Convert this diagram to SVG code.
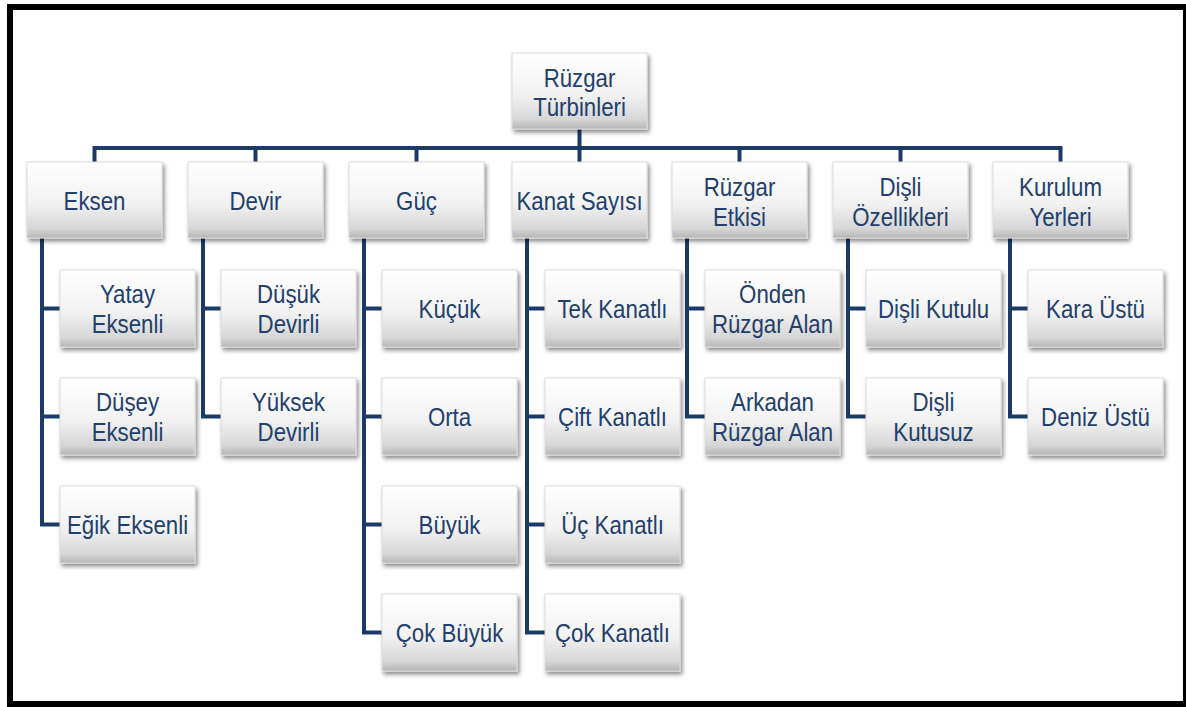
<svg xmlns="http://www.w3.org/2000/svg" width="1186" height="707" viewBox="0 0 1186 707">
<defs>
<linearGradient id="g" x1="0" y1="0" x2="0" y2="1">
<stop offset="0" stop-color="#ffffff"/>
<stop offset="0.55" stop-color="#f2f2f2"/>
<stop offset="0.88" stop-color="#d6d6d6"/>
<stop offset="1" stop-color="#b5b5b5"/>
</linearGradient>
<filter id="sh" x="-10%" y="-10%" width="130%" height="140%">
<feDropShadow dx="2" dy="3" stdDeviation="2" flood-color="#000" flood-opacity="0.45"/>
</filter>
</defs>
<style>
.box{fill:url(#g);stroke:#dcdcdc;stroke-width:1;filter:url(#sh)}
.t{font-family:"Liberation Sans",Arial,sans-serif;font-size:25px;fill:#22406b;text-anchor:middle}
.c{fill:none;stroke:#1b3a66;stroke-width:4;stroke-linejoin:miter;stroke-linecap:butt}
</style>
<rect x="0" y="0" width="1186" height="707" fill="#ffffff"/>
<rect x="10" y="7" width="1176" height="697" fill="none" stroke="#000" stroke-width="6"/>

<g id="connectors">
<path class="c" d="M94.5 148 H1060.5"/>
<path class="c" d="M579.5 129 V162"/>
<path class="c" d="M94.5 146 V162 M255.5 146 V162 M416.5 146 V162 M739.5 146 V162 M900.5 146 V162 M1060.5 146 V162"/>
<path class="c" d="M42 238 V524.5 H60 M42 308.5 H60 M42 416.5 H60"/>
<path class="c" d="M203 238 V416.5 H221 M203 308.5 H221"/>
<path class="c" d="M364 238 V632.5 H382 M364 308.5 H382 M364 416.5 H382 M364 524.5 H382"/>
<path class="c" d="M527 238 V632.5 H545 M527 308.5 H545 M527 416.5 H545 M527 524.5 H545"/>
<path class="c" d="M687 238 V416.5 H705 M687 308.5 H705"/>
<path class="c" d="M848 238 V416.5 H866 M848 308.5 H866"/>
<path class="c" d="M1010 238 V416.5 H1028 M1010 308.5 H1028"/>
</g>

<g id="root"><rect class="box" x="512" y="53" width="135" height="76"/><text class="t" transform="translate(579.5 87) scale(0.89 1)">Rüzgar</text><text class="t" transform="translate(579.5 116) scale(0.89 1)">Türbinleri</text></g>

<g id="eksen"><rect class="box" x="27" y="162" width="135" height="76"/><text class="t" transform="translate(94.5 210) scale(0.89 1)">Eksen</text></g>
<g id="devir"><rect class="box" x="188" y="162" width="135" height="76"/><text class="t" transform="translate(255.5 210) scale(0.89 1)">Devir</text></g>
<g id="guc"><rect class="box" x="349" y="162" width="135" height="76"/><text class="t" transform="translate(416.5 210) scale(0.89 1)">Güç</text></g>
<g id="kanat"><rect class="box" x="512" y="162" width="135" height="76"/><text class="t" transform="translate(579.5 210) scale(0.89 1)">Kanat Sayısı</text></g>
<g id="ruzgar"><rect class="box" x="672" y="162" width="135" height="76"/><text class="t" transform="translate(739.5 196) scale(0.89 1)">Rüzgar</text><text class="t" transform="translate(739.5 226) scale(0.89 1)">Etkisi</text></g>
<g id="disli"><rect class="box" x="833" y="162" width="135" height="76"/><text class="t" transform="translate(900.5 196) scale(0.89 1)">Dişli</text><text class="t" transform="translate(900.5 226) scale(0.89 1)">Özellikleri</text></g>
<g id="kurulum"><rect class="box" x="993" y="162" width="135" height="76"/><text class="t" transform="translate(1060.5 196) scale(0.89 1)">Kurulum</text><text class="t" transform="translate(1060.5 226) scale(0.89 1)">Yerleri</text></g>

<g id="yatay"><rect class="box" x="60" y="270" width="135" height="77"/><text class="t" transform="translate(127.5 303) scale(0.89 1)">Yatay</text><text class="t" transform="translate(127.5 333) scale(0.89 1)">Eksenli</text></g>
<g id="dusey"><rect class="box" x="60" y="378" width="135" height="77"/><text class="t" transform="translate(127.5 411) scale(0.89 1)">Düşey</text><text class="t" transform="translate(127.5 441) scale(0.89 1)">Eksenli</text></g>
<g id="egik"><rect class="box" x="60" y="486" width="135" height="77"/><text class="t" transform="translate(127.5 534) scale(0.89 1)">Eğik Eksenli</text></g>

<g id="dusuk"><rect class="box" x="221" y="270" width="135" height="77"/><text class="t" transform="translate(288.5 303) scale(0.89 1)">Düşük</text><text class="t" transform="translate(288.5 333) scale(0.89 1)">Devirli</text></g>
<g id="yuksek"><rect class="box" x="221" y="378" width="135" height="77"/><text class="t" transform="translate(288.5 411) scale(0.89 1)">Yüksek</text><text class="t" transform="translate(288.5 441) scale(0.89 1)">Devirli</text></g>

<g id="kucuk"><rect class="box" x="382" y="270" width="135" height="77"/><text class="t" transform="translate(449.5 318) scale(0.89 1)">Küçük</text></g>
<g id="orta"><rect class="box" x="382" y="378" width="135" height="77"/><text class="t" transform="translate(449.5 426) scale(0.89 1)">Orta</text></g>
<g id="buyuk"><rect class="box" x="382" y="486" width="135" height="77"/><text class="t" transform="translate(449.5 534) scale(0.89 1)">Büyük</text></g>
<g id="cokbuyuk"><rect class="box" x="382" y="594" width="135" height="77"/><text class="t" transform="translate(449.5 642) scale(0.89 1)">Çok Büyük</text></g>

<g id="tek"><rect class="box" x="545" y="270" width="135" height="77"/><text class="t" transform="translate(612.5 318) scale(0.89 1)">Tek Kanatlı</text></g>
<g id="cift"><rect class="box" x="545" y="378" width="135" height="77"/><text class="t" transform="translate(612.5 426) scale(0.89 1)">Çift Kanatlı</text></g>
<g id="uc"><rect class="box" x="545" y="486" width="135" height="77"/><text class="t" transform="translate(612.5 534) scale(0.89 1)">Üç Kanatlı</text></g>
<g id="cok"><rect class="box" x="545" y="594" width="135" height="77"/><text class="t" transform="translate(612.5 642) scale(0.89 1)">Çok Kanatlı</text></g>

<g id="onden"><rect class="box" x="705" y="270" width="135" height="77"/><text class="t" transform="translate(772.5 303) scale(0.89 1)">Önden</text><text class="t" transform="translate(772.5 333) scale(0.89 1)">Rüzgar Alan</text></g>
<g id="arkadan"><rect class="box" x="705" y="378" width="135" height="77"/><text class="t" transform="translate(772.5 411) scale(0.89 1)">Arkadan</text><text class="t" transform="translate(772.5 441) scale(0.89 1)">Rüzgar Alan</text></g>

<g id="kutulu"><rect class="box" x="866" y="270" width="135" height="77"/><text class="t" transform="translate(933.5 318) scale(0.89 1)">Dişli Kutulu</text></g>
<g id="kutusuz"><rect class="box" x="866" y="378" width="135" height="77"/><text class="t" transform="translate(933.5 411) scale(0.89 1)">Dişli</text><text class="t" transform="translate(933.5 441) scale(0.89 1)">Kutusuz</text></g>

<g id="kara"><rect class="box" x="1028" y="270" width="135" height="77"/><text class="t" transform="translate(1095.5 318) scale(0.89 1)">Kara Üstü</text></g>
<g id="deniz"><rect class="box" x="1028" y="378" width="135" height="77"/><text class="t" transform="translate(1095.5 426) scale(0.89 1)">Deniz Üstü</text></g>
</svg>
